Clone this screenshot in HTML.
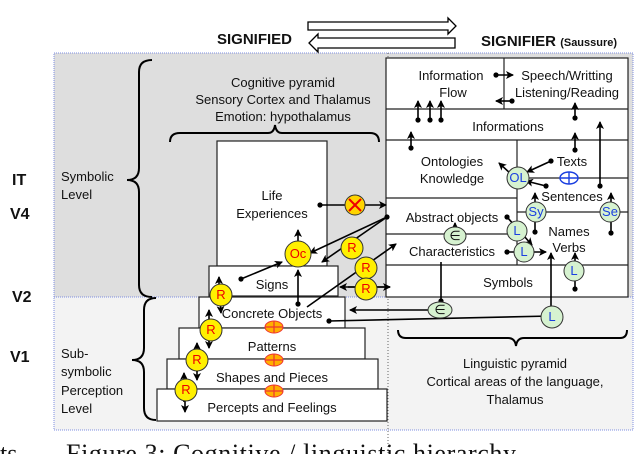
<!DOCTYPE html>
<html><head><meta charset="utf-8"><style>
html,body{margin:0;padding:0;background:#fff;width:640px;height:454px;overflow:hidden}
svg{display:block}
text{font-family:"Liberation Sans",sans-serif;font-size:13px;fill:#111}
.b{font-weight:bold}
.c{text-anchor:middle}
</style></head><body>
<svg width="640" height="454" viewBox="0 0 640 454" xmlns="http://www.w3.org/2000/svg">
<defs>
<marker id="a" markerWidth="8" markerHeight="8" refX="7" refY="4" orient="auto" markerUnits="userSpaceOnUse"><path d="M0,0 L8,4 L0,8 L2,4 z" fill="#000"/></marker>
<marker id="d" markerWidth="6" markerHeight="6" refX="3" refY="3" markerUnits="userSpaceOnUse"><circle cx="3" cy="3" r="2.6" fill="#000"/></marker>
</defs>
<rect x="54" y="53" width="579" height="244" fill="#dedede"/>
<rect x="54" y="297" width="579" height="133" fill="#f3f3f3"/>
<rect x="54" y="53" width="579" height="377" fill="none" stroke="#7f8fe0" stroke-width="1" stroke-dasharray="1,1"/>
<line x1="54" y1="297" x2="633" y2="297" stroke="#7f8fe0" stroke-dasharray="1,1"/>
<line x1="388" y1="53" x2="388" y2="454" stroke="#666" stroke-dasharray="1,2"/>

<text x="217" y="44" class="b" style="font-size:15px">SIGNIFIED</text>
<text x="481" y="46" class="b" style="font-size:15px">SIGNIFIER <tspan style="font-size:11px">(Saussure)</tspan></text>
<path d="M308,22 H448 V18 L456,26 L448,34 V30 H308 Z" fill="#fff" stroke="#000" stroke-width="1.3"/>
<path d="M455,38 H318 V34 L309,43 L318,52 V48 H455 Z" fill="#fff" stroke="#000" stroke-width="1.3"/>

<text x="12" y="185" class="b" style="font-size:16px">IT</text>
<text x="10" y="219" class="b" style="font-size:16px">V4</text>
<text x="12" y="302" class="b" style="font-size:16px">V2</text>
<text x="10" y="362" class="b" style="font-size:16px">V1</text>
<text x="61" y="181">Symbolic</text>
<text x="61" y="199">Level</text>
<text x="61" y="358">Sub-</text>
<text x="61" y="376">symbolic</text>
<text x="61" y="395">Perception</text>
<text x="61" y="413">Level</text>
<path d="M152,60 Q139,60 139,72 V168 Q139,180 127,180 Q139,180 139,192 V285 Q139,297 152,297" fill="none" stroke="#000" stroke-width="2"/>
<path d="M156,298 Q144,298 144,310 V348 Q144,360 132,360 Q144,360 144,372 V408 Q144,420 156,420" fill="none" stroke="#000" stroke-width="2"/>

<text x="283" y="87" class="c">Cognitive pyramid</text>
<text x="283" y="104" class="c">Sensory Cortex and Thalamus</text>
<text x="283" y="121" class="c">Emotion: hypothalamus</text>
<path d="M170,142 Q170,133 180,133 H268 Q274,133 275,125 Q276,133 282,133 H370 Q379,133 379,142" fill="none" stroke="#000" stroke-width="2"/>

<g fill="#fff" stroke="#222" stroke-width="1.2">
<rect x="217" y="141" width="110" height="125"/>
<rect x="209" y="266" width="129" height="30"/>
<rect x="199" y="297" width="146" height="31"/>
<rect x="179" y="328" width="186" height="31"/>
<rect x="167" y="359" width="211" height="30"/>
<rect x="157" y="389" width="230" height="32"/>
</g>
<text x="272" y="200" class="c">Life</text>
<text x="272" y="218" class="c">Experiences</text>
<text x="272" y="289" class="c">Signs</text>
<text x="272" y="318" class="c">Concrete Objects</text>
<text x="272" y="351" class="c">Patterns</text>
<text x="272" y="382" class="c">Shapes and  Pieces</text>
<text x="272" y="412" class="c">Percepts and Feelings</text>

<g fill="#fff" stroke="#222" stroke-width="1.2">
<rect x="386" y="58" width="242" height="239"/>
</g>
<g stroke="#222" stroke-width="1.2">
<line x1="504" y1="58" x2="504" y2="109"/>
<line x1="386" y1="109" x2="628" y2="109"/>
<line x1="386" y1="140" x2="628" y2="140"/>
<line x1="517" y1="140" x2="517" y2="265"/>
<line x1="386" y1="198" x2="517" y2="198"/>
<line x1="517" y1="178" x2="628" y2="178"/>
<line x1="517" y1="212" x2="628" y2="212"/>
<line x1="386" y1="234" x2="517" y2="234"/>
<line x1="386" y1="265" x2="628" y2="265"/>
</g>
<text x="451" y="80" class="c">Information</text>
<text x="453" y="97" class="c">Flow</text>
<text x="567" y="80" class="c">Speech/Writting</text>
<text x="567" y="97" class="c">Listening/Reading</text>
<text x="508" y="131" class="c">Informations</text>
<text x="452" y="166" class="c">Ontologies</text>
<text x="452" y="183" class="c">Knowledge</text>
<text x="572" y="166" class="c">Texts</text>
<text x="572" y="201" class="c">Sentences</text>
<text x="452" y="222" class="c">Abstract objects</text>
<text x="452" y="256" class="c">Characteristics</text>
<text x="569" y="236" class="c">Names</text>
<text x="569" y="252" class="c">Verbs</text>
<text x="508" y="287" class="c">Symbols</text>

<path d="M398,330 Q398,338 406,338 H508 Q515,338 516,346 Q517,338 524,338 H620 Q627,338 627,330" fill="none" stroke="#000" stroke-width="2"/>
<text x="515" y="368" class="c">Linguistic pyramid</text>
<text x="515" y="386" class="c">Cortical areas of the language,</text>
<text x="515" y="404" class="c">Thalamus</text>

<g stroke="#000" stroke-width="1.6" fill="none">
<line x1="418" y1="120" x2="418" y2="101" marker-start="url(#d)" marker-end="url(#a)"/>
<line x1="430" y1="120" x2="430" y2="101" marker-start="url(#d)" marker-end="url(#a)"/>
<line x1="441" y1="120" x2="441" y2="101" marker-start="url(#d)" marker-end="url(#a)"/>
<line x1="411" y1="148" x2="411" y2="132" marker-start="url(#d)" marker-end="url(#a)"/>
<line x1="496" y1="75" x2="513" y2="75" marker-start="url(#d)" marker-end="url(#a)"/>
<line x1="512" y1="101" x2="496" y2="101" marker-start="url(#d)" marker-end="url(#a)"/>
<line x1="575" y1="118" x2="575" y2="103" marker-start="url(#d)" marker-end="url(#a)"/>
<line x1="575" y1="150" x2="575" y2="133" marker-start="url(#d)" marker-end="url(#a)"/>
<line x1="600" y1="186" x2="600" y2="122" marker-start="url(#d)" marker-end="url(#a)"/>
<line x1="551" y1="161" x2="527" y2="172" marker-start="url(#d)" marker-end="url(#a)"/>
<line x1="546" y1="186" x2="526" y2="181" marker-start="url(#d)" marker-end="url(#a)"/>
<line x1="511" y1="174" x2="499" y2="163" marker-end="url(#a)"/>
<line x1="535" y1="232" x2="535" y2="193" marker-start="url(#d)" marker-end="url(#a)"/>
<line x1="611" y1="233" x2="611" y2="193" marker-start="url(#d)" marker-end="url(#a)"/>
<line x1="507" y1="217" x2="532" y2="245" marker-start="url(#d)" marker-end="url(#a)"/>
<line x1="507" y1="252" x2="546" y2="252" marker-start="url(#d)" marker-end="url(#a)"/>
<line x1="575" y1="289" x2="575" y2="253" marker-start="url(#d)" marker-end="url(#a)"/>
<line x1="551" y1="316" x2="551" y2="253" marker-end="url(#a)"/>
<line x1="551" y1="316" x2="329" y2="321" marker-end="url(#d)"/>
<line x1="441" y1="301" x2="441" y2="262" marker-start="url(#d)"/>
<line x1="441" y1="310" x2="350" y2="310" marker-end="url(#a)"/>
<line x1="455" y1="232" x2="455" y2="223" marker-end="url(#a)"/>
<line x1="320" y1="205" x2="386" y2="205" marker-start="url(#d)" marker-end="url(#a)"/>
<line x1="387" y1="217" x2="310" y2="253" marker-start="url(#d)" marker-end="url(#a)"/>
<line x1="387" y1="217" x2="322" y2="262" marker-end="url(#a)"/>
<line x1="307" y1="307" x2="396" y2="244" marker-end="url(#a)"/>
<line x1="348" y1="287" x2="390" y2="287" marker-end="url(#a)"/>
<line x1="390" y1="287" x2="340" y2="287" marker-end="url(#a)"/>
<line x1="241" y1="279" x2="282" y2="262" marker-start="url(#d)" marker-end="url(#a)"/>
<line x1="298" y1="304" x2="298" y2="270" marker-start="url(#d)" marker-end="url(#a)"/>
<line x1="298" y1="250" x2="298" y2="230" marker-end="url(#a)"/>
<line x1="219" y1="305" x2="219" y2="277" marker-end="url(#a)"/>
<line x1="219" y1="285" x2="221" y2="313" marker-end="url(#a)"/>
<line x1="209" y1="342" x2="209" y2="310" marker-end="url(#a)"/>
<line x1="209" y1="320" x2="209" y2="348" marker-end="url(#a)"/>
<line x1="197" y1="372" x2="197" y2="343" marker-end="url(#a)"/>
<line x1="197" y1="350" x2="197" y2="380" marker-end="url(#a)"/>
<line x1="184" y1="402" x2="184" y2="373" marker-end="url(#a)"/>
<line x1="185" y1="380" x2="185" y2="412" marker-end="url(#a)"/>
</g>

<g fill="#ffef00" stroke="#333" stroke-width="1">
<circle cx="221" cy="295" r="11"/>
<circle cx="211" cy="330" r="11"/>
<circle cx="197" cy="360" r="11"/>
<circle cx="186" cy="390" r="11"/>
<circle cx="352" cy="248" r="11"/>
<circle cx="366" cy="268" r="11"/>
<circle cx="366" cy="289" r="11"/>
<circle cx="298" cy="254" r="13"/>
<circle cx="355" cy="205" r="10" fill="#ffd400"/>
</g>
<g style="font-size:12px">
<text x="221" y="299" class="c" style="fill:#e00">R</text>
<text x="211" y="334" class="c" style="fill:#e00">R</text>
<text x="197" y="364" class="c" style="fill:#e00">R</text>
<text x="186" y="394" class="c" style="fill:#e00">R</text>
<text x="352" y="252" class="c" style="fill:#e00">R</text>
<text x="366" y="272" class="c" style="fill:#e00">R</text>
<text x="366" y="293" class="c" style="fill:#e00">R</text>
<text x="298" y="258" class="c" style="fill:#e00">Oc</text>
</g>
<path d="M349,199 L361,211 M361,199 L349,211" stroke="#e00" stroke-width="2"/>
<g>
<ellipse cx="274" cy="327" rx="9" ry="6" fill="#ffb000" stroke="#e33" stroke-width="1"/>
<ellipse cx="274" cy="360" rx="9" ry="6" fill="#ffb000" stroke="#e33" stroke-width="1"/>
<ellipse cx="274" cy="391" rx="9" ry="6" fill="#ffb000" stroke="#e33" stroke-width="1"/>
<path d="M265,327 H283 M274,321 V333 M265,360 H283 M274,354 V366 M265,391 H283 M274,385 V397" stroke="#e33" stroke-width="1.2"/>
</g>
<ellipse cx="569" cy="178" rx="9" ry="6" fill="#fff" stroke="#1a3fe0" stroke-width="1.4"/>
<path d="M560,178 H578 M569,172 V184" stroke="#1a3fe0" stroke-width="1.4"/>

<g fill="#d6f2d0" stroke="#333" stroke-width="1">
<circle cx="518" cy="178" r="11"/>
<circle cx="536" cy="212" r="10"/>
<circle cx="610" cy="212" r="10"/>
<circle cx="517" cy="231" r="10"/>
<circle cx="524" cy="252" r="10"/>
<circle cx="574" cy="271" r="10"/>
<circle cx="552" cy="317" r="11"/>
<ellipse cx="455" cy="236" rx="11" ry="9"/>
<ellipse cx="440" cy="310" rx="12" ry="8"/>
</g>
<g style="font-size:12px">
<text x="518" y="182" class="c" style="fill:#1a3fe0">OL</text>
<text x="536" y="216" class="c" style="fill:#1a3fe0">Sy</text>
<text x="610" y="216" class="c" style="fill:#1a3fe0">Se</text>
<text x="517" y="235" class="c" style="fill:#1a3fe0">L</text>
<text x="524" y="256" class="c" style="fill:#1a3fe0">L</text>
<text x="574" y="275" class="c" style="fill:#1a3fe0">L</text>
<text x="552" y="321" class="c" style="fill:#1a3fe0">L</text>
<text x="455" y="240" class="c">∈</text>
<text x="440" y="314" class="c">∈</text>
</g>

<text x="0" y="462" style="font-family:'Liberation Serif',serif;font-size:26px">ts</text>
<text x="66" y="462" textLength="450" style="font-family:'Liberation Serif',serif;font-size:26px">Figure 3:  Cognitive / linguistic hierarchy</text>
</svg>
</body></html>
